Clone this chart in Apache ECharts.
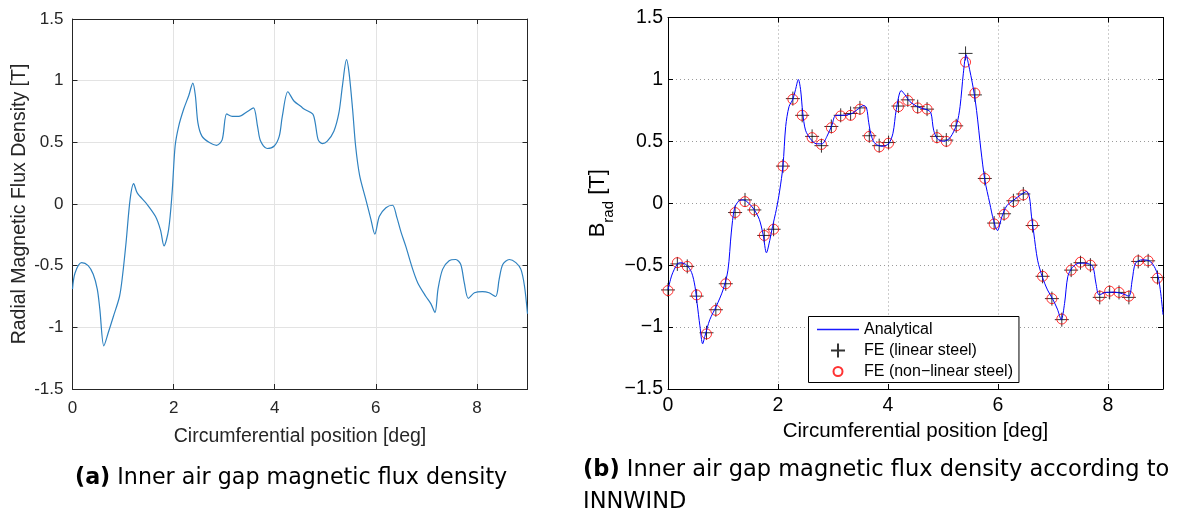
<!DOCTYPE html>
<html><head><meta charset="utf-8">
<script src="https://cdn.jsdelivr.net/npm/echarts@6/dist/echarts.min.js"></script>
<style>html,body{margin:0;padding:0;background:#fff}#c{width:1181px;height:513px}</style>
</head><body><div id="c"></div><script>
// ---- data ----
const xTickLabels = ['0','2','4','6','8'];
const leftYTickLabels = ['-1.5','-1','-0.5','0','0.5','1','1.5'];
const rightYTickLabels = ['\u22121.5','\u22121','\u22120.5','0','0.5','1','1.5'];

// (a) radial magnetic flux density
const leftX = [0,0.05,0.18,0.31,0.41,0.49,0.54,0.62,0.71,0.81,0.93,0.99,1.06,1.14,1.21,1.28,1.47,1.64,1.74,1.81,1.90,1.97,2.03,2.10,2.20,2.30,2.38,2.43,2.48,2.56,2.70,2.85,2.96,3.05,3.16,3.29,3.46,3.58,3.66,3.72,3.85,3.99,4.09,4.15,4.26,4.38,4.52,4.58,4.75,4.80,4.86,4.94,5.04,5.17,5.27,5.34,5.42,5.47,5.54,5.60,5.68,5.80,5.90,5.98,6.07,6.20,6.33,6.41,6.50,6.59,6.73,6.83,6.99,7.09,7.17,7.23,7.32,7.45,7.58,7.68,7.75,7.83,7.95,8.11,8.24,8.37,8.44,8.51,8.64,8.77,8.87,8.94,9.0];
const leftY = [-0.69,-0.56,-0.476,-0.50,-0.57,-0.69,-0.85,-1.15,-1.04,-0.91,-0.75,-0.58,-0.31,0.04,0.165,0.09,0.0,-0.10,-0.21,-0.34,-0.21,0.09,0.47,0.63,0.77,0.88,0.98,0.88,0.66,0.55,0.50,0.476,0.52,0.73,0.71,0.71,0.75,0.78,0.63,0.51,0.45,0.47,0.55,0.71,0.91,0.835,0.79,0.77,0.73,0.66,0.52,0.49,0.51,0.59,0.74,0.96,1.17,1.065,0.77,0.47,0.23,0.04,-0.12,-0.245,-0.10,-0.03,-0.01,-0.10,-0.23,-0.34,-0.53,-0.64,-0.75,-0.81,-0.88,-0.69,-0.53,-0.46,-0.45,-0.49,-0.64,-0.765,-0.72,-0.71,-0.72,-0.75,-0.61,-0.49,-0.45,-0.475,-0.53,-0.665,-0.89];

// (b) analytical curve
const rightX = [0,0.07,0.17,0.23,0.34,0.43,0.49,0.53,0.58,0.63,0.67,0.76,0.88,1.00,1.09,1.15,1.21,1.29,1.37,1.48,1.57,1.66,1.73,1.79,1.85,1.90,1.97,2.03,2.09,2.14,2.20,2.27,2.32,2.37,2.41,2.45,2.50,2.59,2.70,2.80,2.89,2.98,3.05,3.17,3.32,3.44,3.56,3.61,3.65,3.70,3.77,3.89,4.01,4.09,4.15,4.24,4.31,4.40,4.56,4.71,4.78,4.83,4.90,5.01,5.13,5.25,5.31,5.37,5.42,5.46,5.55,5.61,5.69,5.76,5.85,5.92,5.99,6.07,6.16,6.29,6.41,6.52,6.57,6.61,6.65,6.72,6.81,6.90,6.99,7.08,7.15,7.21,7.27,7.35,7.47,7.59,7.72,7.78,7.84,7.96,8.11,8.26,8.38,8.44,8.50,8.62,8.75,8.84,8.91,8.96,9.0];
const rightY = [-0.70,-0.58,-0.49,-0.48,-0.50,-0.56,-0.67,-0.81,-0.99,-1.135,-1.075,-0.94,-0.83,-0.70,-0.54,-0.24,-0.04,0.02,0.027,-0.005,-0.054,-0.13,-0.255,-0.40,-0.30,-0.19,-0.05,0.10,0.30,0.62,0.78,0.84,0.92,1.00,0.92,0.73,0.59,0.52,0.48,0.48,0.54,0.63,0.71,0.71,0.72,0.755,0.79,0.77,0.65,0.54,0.48,0.46,0.48,0.565,0.755,0.91,0.875,0.82,0.775,0.755,0.73,0.59,0.52,0.50,0.53,0.64,0.78,1.05,1.20,1.13,0.93,0.75,0.43,0.19,0.0,-0.14,-0.22,-0.11,-0.02,0.027,0.067,0.094,0.054,-0.11,-0.24,-0.46,-0.60,-0.70,-0.77,-0.855,-0.94,-0.81,-0.59,-0.52,-0.484,-0.484,-0.51,-0.645,-0.74,-0.72,-0.718,-0.73,-0.75,-0.62,-0.484,-0.457,-0.465,-0.51,-0.59,-0.73,-0.90];

// (b) FE sample positions and values
const feX = [0,0.17,0.35,0.52,0.70,0.87,1.05,1.22,1.40,1.57,1.75,1.92,2.09,2.27,2.44,2.62,2.79,2.97,3.14,3.32,3.49,3.66,3.84,4.01,4.19,4.36,4.54,4.71,4.89,5.06,5.24,5.41,5.58,5.76,5.93,6.11,6.28,6.46,6.63,6.81,6.98,7.16,7.33,7.50,7.68,7.85,8.03,8.20,8.38,8.55,8.73,8.90];
const feLinear = [-0.70,-0.49,-0.51,-0.75,-1.046,-0.86,-0.65,-0.075,0.027,-0.054,-0.26,-0.21,0.30,0.845,0.71,0.54,0.465,0.62,0.71,0.725,0.77,0.545,0.465,0.49,0.785,0.835,0.78,0.76,0.54,0.51,0.625,1.21,0.875,0.20,-0.16,-0.085,0.02,0.075,-0.18,-0.59,-0.77,-0.94,-0.54,-0.48,-0.50,-0.76,-0.72,-0.72,-0.76,-0.47,-0.465,-0.60];
const feNonLinear = [-0.705,-0.48,-0.51,-0.74,-1.055,-0.865,-0.65,-0.075,0.013,-0.054,-0.26,-0.21,0.30,0.84,0.71,0.53,0.475,0.61,0.705,0.71,0.76,0.54,0.455,0.485,0.78,0.83,0.77,0.76,0.53,0.50,0.625,1.14,0.89,0.20,-0.167,-0.09,0.013,0.067,-0.175,-0.59,-0.77,-0.935,-0.54,-0.476,-0.50,-0.75,-0.71,-0.72,-0.75,-0.465,-0.465,-0.605];

// ---- chart ----
const zip = (xs, ys) => xs.map((x, i) => [x, ys[i]]);
const yIdx = v => Math.round((v + 1.5) / 0.5);
const xIdx = v => Math.round(v / 2);

const axFont = 'Liberation Sans';
const capFont = 'DejaVu Sans';

function xAx(grid, pos, c, opts) {
  return Object.assign({
    type: 'value', gridIndex: grid, position: pos, min: 0, max: 9, interval: 2,
    axisLine: { show: true, onZero: false, lineStyle: { color: c, width: 1 } },
    axisTick: { show: true, inside: true, length: 5, lineStyle: { color: c } },
    axisLabel: { show: false },
    splitLine: { show: false }
  }, opts || {});
}
function yAx(grid, pos, c, opts) {
  return Object.assign({
    type: 'value', gridIndex: grid, position: pos, min: -1.5, max: 1.5, interval: 0.5,
    axisLine: { show: true, onZero: false, lineStyle: { color: c, width: 1 } },
    axisTick: { show: true, inside: true, length: 5, lineStyle: { color: c } },
    axisLabel: { show: false },
    splitLine: { show: false }
  }, opts || {});
}

const chart = echarts.init(document.getElementById('c'), null, { renderer: 'canvas' });
chart.setOption({
  animation: false,
  backgroundColor: '#fff',
  textStyle: { fontFamily: axFont },
  grid: [
    { left: 72.5, top: 19, width: 455, height: 370 },
    { left: 668, top: 17.5, width: 495, height: 371.5 }
  ],
  xAxis: [
    xAx(0, 'bottom', '#262626', {
      axisLabel: { show: true, formatter: v => xTickLabels[xIdx(v)], margin: 11, fontSize: 17, color: '#262626', fontFamily: axFont, showMaxLabel: false },
      splitLine: { show: true, lineStyle: { color: '#e3e3e3', width: 1 } },
      name: 'Circumferential position [deg]', nameLocation: 'middle', nameGap: 38,
      nameTextStyle: { fontSize: 19.5, color: '#262626', fontFamily: axFont }
    }),
    xAx(0, 'top', '#262626'),
    xAx(1, 'bottom', '#000', {
      axisLabel: { show: true, formatter: v => xTickLabels[xIdx(v)], margin: 7, fontSize: 19.5, color: '#000', fontFamily: axFont, showMaxLabel: false },
      splitLine: { show: true, lineStyle: { color: '#9a9a9a', width: 1, type: [1, 3] } },
      name: 'Circumferential position [deg]', nameLocation: 'middle', nameGap: 26,
      nameTextStyle: { fontSize: 20.5, color: '#000', fontFamily: axFont }
    }),
    xAx(1, 'top', '#000')
  ],
  yAxis: [
    yAx(0, 'left', '#262626', {
      axisLabel: { show: true, formatter: v => leftYTickLabels[yIdx(v)], margin: 9, fontSize: 17, color: '#262626', fontFamily: axFont },
      splitLine: { show: true, lineStyle: { color: '#e3e3e3', width: 1 } },
      name: 'Radial Magnetic Flux Density [T]', nameLocation: 'middle', nameGap: 43,
      nameTextStyle: { fontSize: 19.5, color: '#262626', fontFamily: axFont }
    }),
    yAx(0, 'right', '#262626'),
    yAx(1, 'left', '#000', {
      axisLabel: { show: true, formatter: v => rightYTickLabels[yIdx(v)], margin: 5, fontSize: 19.5, color: '#000', fontFamily: axFont },
      splitLine: { show: true, lineStyle: { color: '#9a9a9a', width: 1, type: [1, 3] } },
      name: '{b|B}{s|rad}{b| [T]}', nameLocation: 'middle', nameGap: 52,
      nameTextStyle: { color: '#000', fontFamily: axFont, fontSize: 22,
        rich: { b: { fontSize: 22, lineHeight: 36, color: '#000', fontFamily: axFont },
                s: { fontSize: 15, lineHeight: 15, verticalAlign: 'bottom', color: '#000', fontFamily: axFont } } }
    }),
    yAx(1, 'right', '#000')
  ],
  legend: {
    orient: 'vertical', left: 808.5, top: 316.5, padding: [5, 6, 3, 8.5], itemWidth: 42, itemHeight: 14, itemGap: 5,
    selectedMode: false, z: 10, backgroundColor: '#fff', borderColor: '#000', borderWidth: 1, borderRadius: 0,
    textStyle: { fontSize: 16, color: '#000', fontFamily: axFont },
    data: [
      { name: 'Analytical', icon: 'path://M0,0L42,0L42,1.6L0,1.6Z', itemStyle: { color: '#1a1aff', borderColor: '#1a1aff', borderWidth: 0 } },
      { name: 'FE (linear steel)' },
      { name: 'FE (non\u2212linear steel)', icon: 'path://M0,0M14,14M11.5,7A4.5,4.5,0,1,1,2.5,7A4.5,4.5,0,1,1,11.5,7Z' }
    ]
  },
  title: [
    { left: 75, top: 462, padding: 0,
      text: '{b|(a)} Inner air gap magnetic flux density',
      textStyle: { fontFamily: capFont, fontSize: 22.2, fontWeight: 'normal', color: '#000', lineHeight: 32,
        rich: { b: { fontFamily: capFont, fontSize: 22.2, fontWeight: 'bold', color: '#000', lineHeight: 32 } } } },
    { left: 583, top: 454, padding: 0,
      text: '{b|(b)} Inner air gap magnetic flux density according to\nINNWIND',
      textStyle: { fontFamily: capFont, fontSize: 22.5, fontWeight: 'normal', color: '#000', lineHeight: 32,
        rich: { b: { fontFamily: capFont, fontSize: 22.5, fontWeight: 'bold', color: '#000', lineHeight: 32 } } } }
  ],
  series: [
    { name: 'Radial', type: 'line', xAxisIndex: 0, yAxisIndex: 0, data: zip(leftX, leftY),
      smooth: 0.3, symbol: 'none', lineStyle: { color: '#2f82c0', width: 1.2 }, silent: true },
    { name: 'Analytical', type: 'line', xAxisIndex: 2, yAxisIndex: 2, data: zip(rightX, rightY),
      smooth: 0.3, symbol: 'none', itemStyle: { color: '#0000ff' }, lineStyle: { color: '#0000ff', width: 1 }, silent: true },
    { name: 'FE (linear steel)', type: 'scatter', xAxisIndex: 2, yAxisIndex: 2, data: zip(feX, feLinear),
      symbol: 'path://M7,0L7,14M0,7L14,7', symbolSize: 14,
      itemStyle: { color: 'rgba(0,0,0,0)', borderColor: '#000', borderWidth: 1 }, silent: true },
    { name: 'FE (non\u2212linear steel)', type: 'scatter', xAxisIndex: 2, yAxisIndex: 2, data: zip(feX, feNonLinear),
      symbol: 'circle', symbolSize: 10,
      itemStyle: { color: 'rgba(0,0,0,0)', borderColor: '#ff0000', borderWidth: 1 }, silent: true }
  ]
});
</script></body></html>
